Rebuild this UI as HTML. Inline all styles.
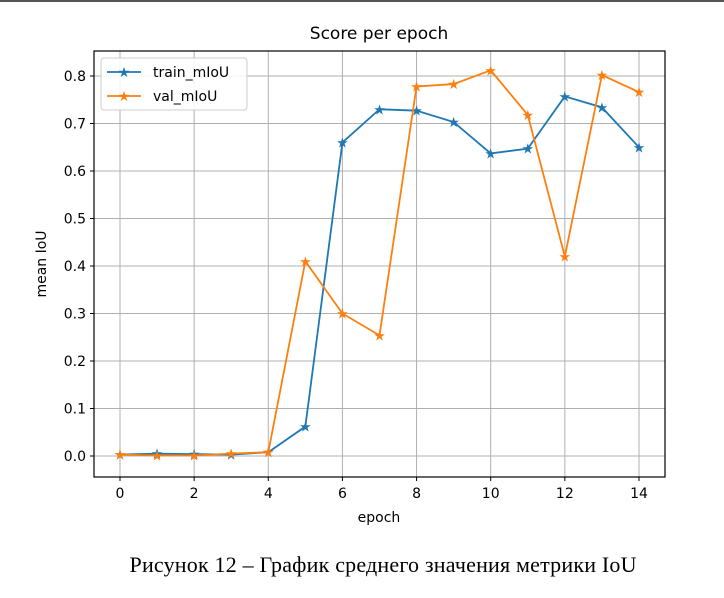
<!DOCTYPE html>
<html><head><meta charset="utf-8"><style>
body{margin:0;background:#fff;width:724px;height:593px;overflow:hidden}
svg text{font-family:"DejaVu Sans","Liberation Sans",sans-serif}
</style></head><body>
<svg width="724" height="593">
<rect x="0" y="0" width="724" height="2" fill="#555"/>
<text x="379" y="39" font-size="17" text-anchor="middle">Score per epoch</text>
<g id="grid"></g><g id="ticks"></g><g id="series"></g>
<rect x="94" y="51" width="571" height="426" fill="none" stroke="#000" stroke-width="1.2"/>
<text x="379" y="522" font-size="14" text-anchor="middle">epoch</text>
<text transform="translate(46,264) rotate(-90)" font-size="14" text-anchor="middle">mean IoU</text>
<g>
<rect x="101" y="58" width="146" height="52" rx="3" fill="#fff" fill-opacity="0.85" stroke="#ccc"/>
<line x1="107" y1="72" x2="141" y2="72" stroke="#1f77b4" stroke-width="1.8"/>
<text x="124" y="77" font-size="14" fill="#1f77b4" text-anchor="middle">★</text>
<text x="153" y="77" font-size="14">train_mIoU</text>
<line x1="107" y1="96" x2="141" y2="96" stroke="#ff7f0e" stroke-width="1.8"/>
<text x="124" y="101" font-size="14" fill="#ff7f0e" text-anchor="middle">★</text>
<text x="153" y="101" font-size="14">val_mIoU</text>
</g>
<text x="383" y="572" font-size="22" text-anchor="middle" textLength="507" style="font-family:'Liberation Serif',serif">Рисунок 12 – График среднего значения метрики IoU</text>
</svg>
<script>
const epochs=[0,1,2,3,4,5,6,7,8,9,10,11,12,13,14];
const trainMIoU=[0.003,0.005,0.004,0.003,0.008,0.062,0.66,0.73,0.727,0.703,0.637,0.647,0.757,0.734,0.65];
const valMIoU=[0.003,0.001,0.001,0.005,0.008,0.41,0.30,0.254,0.778,0.783,0.812,0.718,0.42,0.802,0.766];
const xTicks=[0,2,4,6,8,10,12,14];
const yTicks=[0,0.1,0.2,0.3,0.4,0.5,0.6,0.7,0.8];
const NS="http://www.w3.org/2000/svg";
const X=v=>120+v*37.07, Y=v=>456-v*475;
function mk(t,a,p){const e=document.createElementNS(NS,t);for(const k in a)e.setAttribute(k,a[k]);p.appendChild(e);return e;}
const grid=document.getElementById('grid'),ticks=document.getElementById('ticks'),ser=document.getElementById('series');
xTicks.forEach(v=>{
 const g=mk('line',{x1:X(v),x2:X(v),y1:51,y2:477,stroke:'#b0b0b0','stroke-width':1},grid);
 
 
 mk('line',{x1:X(v),x2:X(v),y1:477,y2:481,stroke:'#000'},ticks);
 const t=mk('text',{x:X(v),y:498,'font-size':14,'text-anchor':'middle'},ticks);t.textContent=v;
 
 
});
yTicks.forEach(v=>{
 const g=mk('line',{x1:94,x2:665,y1:Y(v),y2:Y(v),stroke:'#b0b0b0','stroke-width':1},grid);
 
 
 mk('line',{x1:90,x2:94,y1:Y(v),y2:Y(v),stroke:'#000'},ticks);
 const t=mk('text',{x:86,y:Y(v)+5,'font-size':14,'text-anchor':'end'},ticks);t.textContent=v.toFixed(1);
 
 
});
function draw(vals,col,name){
 const pl=mk('polyline',{points:vals.map((v,i)=>X(epochs[i])+','+Y(v)).join(' '),fill:'none',stroke:col,'stroke-width':1.8},ser);
 
 
 vals.forEach((v,i)=>{
  const s=mk('text',{x:X(epochs[i]),y:Y(v)+5,'font-size':14,fill:col,'text-anchor':'middle'},ser);s.textContent='★';
  
  
 });
}
draw(trainMIoU,'#1f77b4','train-miou');
draw(valMIoU,'#ff7f0e','val-miou');
</script>
</body></html>
